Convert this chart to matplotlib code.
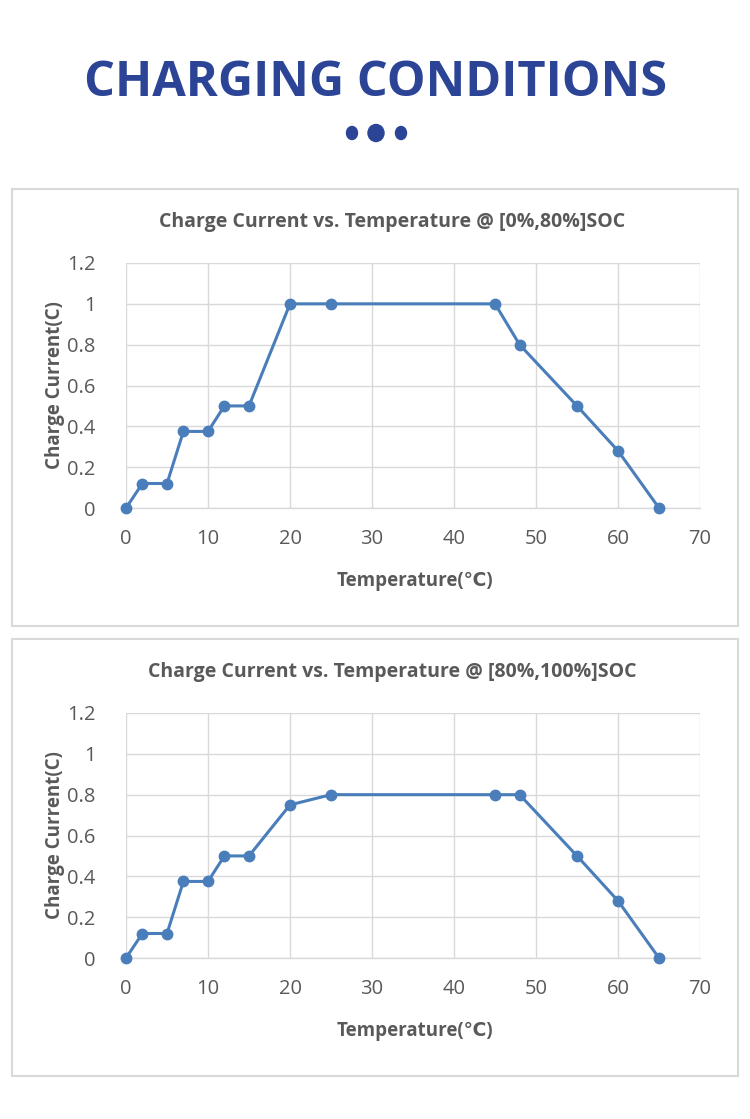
import matplotlib
matplotlib.use("Agg")
import matplotlib.pyplot as plt
from matplotlib.patches import Rectangle, Ellipse

temps = [0, 2, 5, 7, 10, 12, 15, 20, 25, 45, 48, 55, 60, 65]
current_low_soc = [0, 0.12, 0.12, 0.375, 0.375, 0.5, 0.5, 1.0, 1.0, 1.0, 0.8, 0.5, 0.28, 0]
current_high_soc = [0, 0.12, 0.12, 0.375, 0.375, 0.5, 0.5, 0.75, 0.8, 0.8, 0.8, 0.5, 0.28, 0]
x_ticks = [0, 10, 20, 30, 40, 50, 60, 70]
y_ticks = [0, 0.2, 0.4, 0.6, 0.8, 1.0, 1.2]
y_tick_labels = ["0", "0.2", "0.4", "0.6", "0.8", "1", "1.2"]
titles = ["Charge Current vs. Temperature @ [0%,80%]SOC",
          "Charge Current vs. Temperature @ [80%,100%]SOC"]
series = [current_low_soc, current_high_soc]

W, H = 750, 1119
fig = plt.figure(figsize=(W / 100, H / 100), dpi=100)
fig.patch.set_facecolor("white")

def fx(px):
    return px / W

def fy(py):
    return 1 - py / H

TXT = "#595959"
BLUE = "#4A7EBB"
FONT = "Open Sans"

# Header
fig.text(fx(375), fy(84), "CHARGING CONDITIONS", ha="center", va="center",
         fontsize=35, fontweight="bold", color="#2B4496", family=FONT)
for cx, w, h in [(352, 11, 13), (376, 16, 17), (401, 11, 13)]:
    fig.patches.append(Ellipse((fx(cx), fy(133)), w / W, h / H,
                               transform=fig.transFigure, color="#2B4496"))

panels = [(189, 626, 263, 508), (639, 1076, 713, 958)]

for (ptop, pbot, atop, abot), title, ys in zip(panels, titles, series):
    fig.patches.append(Rectangle((fx(12), fy(pbot)), (738 - 12) / W, (pbot - ptop) / H,
                                 transform=fig.transFigure, fill=False,
                                 edgecolor="#D9D9D9", linewidth=1.5))
    ax = fig.add_axes([fx(126), fy(abot), (700 - 126) / W, (abot - atop) / H])
    ax.plot(temps, ys, color=BLUE, linewidth=2.2, marker="o", markersize=7.5,
            markerfacecolor=BLUE, markeredgecolor=BLUE, clip_on=False, zorder=3)
    ax.set_xlim(0, 70)
    ax.set_ylim(0, 1.2)
    ax.set_xticks(x_ticks)
    ax.set_yticks(y_ticks)
    ax.set_yticklabels(y_tick_labels)
    ax.grid(True, color="#D9D9D9", linewidth=1)
    ax.set_axisbelow(True)
    for s in ["top", "right", "left"]:
        ax.spines[s].set_visible(False)
    ax.spines["bottom"].set_color("#D9D9D9")
    ax.spines["bottom"].set_linewidth(1)
    ax.tick_params(length=0, labelsize=14.5, labelcolor=TXT)
    ax.tick_params(axis="x", pad=15)
    ax.tick_params(axis="y", pad=22)
    for lab in ax.get_xticklabels() + ax.get_yticklabels():
        lab.set_family(FONT)
    fig.text(fx(392), fy(ptop + 33), title, ha="center", va="center",
             fontsize=14, fontweight="bold", color=TXT, family=FONT)
    fig.text(fx(415), fy(abot + 73), "Temperature(℃)", ha="center", va="center",
             fontsize=13.5, fontweight="bold", color=TXT, family=[FONT, "DejaVu Sans"])
    fig.text(fx(55), fy((atop + abot) / 2), "Charge Current(C)", ha="center", va="center",
             rotation=90, fontsize=13.5, fontweight="bold", color=TXT, family=FONT)

fig.savefig("out.png", dpi=100, facecolor="white")
